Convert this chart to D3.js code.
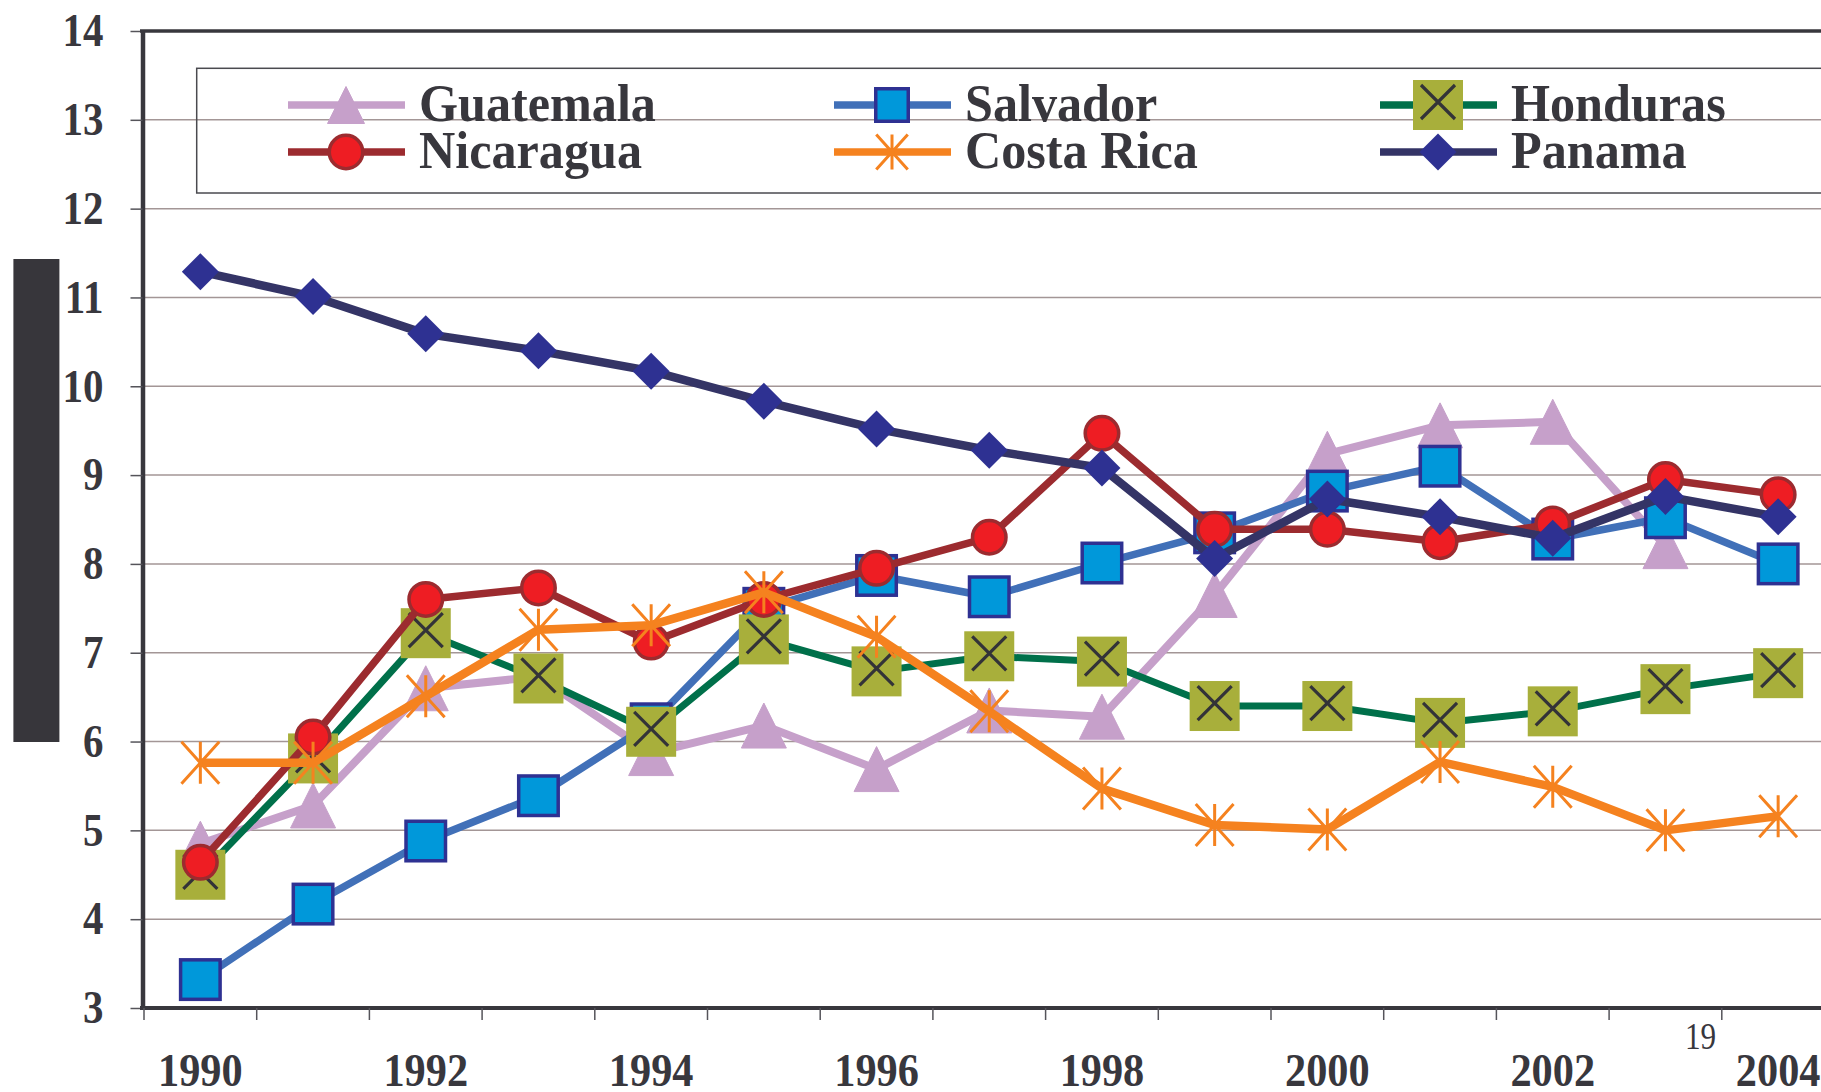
<!DOCTYPE html>
<html>
<head>
<meta charset="utf-8">
<script src="https://cdn.jsdelivr.net/npm/d3@7"></script>
<style>
body { margin: 0; background: #fff; }
svg { display: block; }
text { font-family: "Liberation Serif", "Times New Roman", serif; fill: #38373d; }
</style>
</head>
<body>
<svg id="chart" width="1821" height="1092"></svg>
<script>
var years = [1990, 1991, 1992, 1993, 1994, 1995, 1996, 1997, 1998, 1999, 2000, 2001, 2002, 2003, 2004];
var guatemala = [4.85, 5.28, 6.6, 6.73, 5.87, 6.18, 5.69, 6.35, 6.28, 7.65, 9.24, 9.56, 9.6, 8.2, null];
var salvador = [3.32, 4.17, 4.88, 5.39, 6.2, 7.5, 7.87, 7.63, 8.01, 8.35, 8.82, 9.1, 8.28, 8.52, 8.0];
var honduras = [4.5, 5.81, 7.22, 6.71, 6.11, 7.15, 6.79, 6.96, 6.9, 6.4, 6.4, 6.21, 6.34, 6.59, 6.77];
var nicaragua = [4.64, 6.05, 7.6, 7.73, 7.12, 7.6, 7.95, 8.3, 9.47, 8.39, 8.39, 8.25, 8.45, 8.95, 8.78];
var costaRica = [5.76, 5.76, 6.51, 7.26, 7.31, 7.68, 7.18, 6.34, 5.47, 5.06, 5.01, 5.77, 5.49, 5.0, 5.16];
var panama = [11.29, 11.01, 10.59, 10.4, 10.17, 9.83, 9.52, 9.28, 9.08, 8.06, 8.73, 8.53, 8.29, 8.76, 8.53];
var yTicks = [3, 4, 5, 6, 7, 8, 9, 10, 11, 12, 13, 14];
var yearLabels = [1990, 1992, 1994, 1996, 1998, 2000, 2002, 2004];

// legend order = drawing order
var series = [
  {name: "Guatemala", values: guatemala, color: "#c6a0ca", width: 8, mark: "triangle", size: 45, lsize: 37},
  {name: "Salvador", values: salvador, color: "#4170b8", width: 7.5, mark: "square", size: 43, lsize: 36},
  {name: "Honduras", values: honduras, color: "#00704a", width: 7, mark: "xbox", size: 50, lsize: 50},
  {name: "Nicaragua", values: nicaragua, color: "#9c2b2f", width: 7.5, mark: "circle", size: 37, lsize: 37},
  {name: "Costa Rica", values: costaRica, color: "#f5821f", width: 8.5, mark: "star", size: 42, lsize: 35},
  {name: "Panama", values: panama, color: "#343466", width: 8.5, mark: "diamond", size: 37, lsize: 37}
];

var svg = d3.select("#chart");
var x = d3.scaleBand().domain(years).range([144, 144 + 15 * 112.7]);
var y = d3.scaleLinear().domain([3, 14]).range([1008, 31]);
function cx(yr) { return x(yr) + x.bandwidth() / 2; }

function squeeze(sel, k) {
  sel.each(function () {
    var w = this.getComputedTextLength();
    d3.select(this).attr("textLength", w * k).attr("lengthAdjust", "spacingAndGlyphs");
  });
}

function addMarker(g, type, s) {
  var h = s / 2;
  if (type == "triangle") {
    g.append("path").attr("d", "M0," + (-h) + "L" + h + "," + h + "L" + (-h) + "," + h + "Z")
      .attr("fill", "#c6a0ca").attr("stroke", "#c6a0ca").attr("stroke-width", 1).attr("stroke-linejoin", "round");
  } else if (type == "square") {
    g.append("rect").attr("x", -h + 1.75).attr("y", -h + 1.75).attr("width", s - 3.5).attr("height", s - 3.5)
      .attr("fill", "#0098da").attr("stroke", "#2e3192").attr("stroke-width", 3.5);
  } else if (type == "xbox") {
    g.append("rect").attr("x", -h).attr("y", -h).attr("width", s).attr("height", s).attr("fill", "#a8af3b");
    g.append("path").attr("d", "M-17,-20L17,14M17,-20L-17,14")
      .attr("stroke", "#333338").attr("stroke-width", 3.2).attr("fill", "none");
  } else if (type == "circle") {
    g.append("circle").attr("r", h - 1.75).attr("fill", "#ee1d23").attr("stroke", "#9c2b2f").attr("stroke-width", 3.5);
  } else if (type == "star") {
    g.append("path").attr("d", "M0," + (-h) + "V" + h + "M" + (-h * 0.9) + "," + (-h) + "L" + (h * 0.9) + "," + h +
        "M" + (h * 0.9) + "," + (-h) + "L" + (-h * 0.9) + "," + h)
      .attr("stroke", "#f5821f").attr("stroke-width", 3).attr("fill", "none");
  } else if (type == "diamond") {
    g.append("path").attr("d", "M0," + (-h) + "L" + h + ",0L0," + h + "L" + (-h) + ",0Z").attr("fill", "#2e3192");
  }
}

svg.append("rect").attr("width", 1821).attr("height", 1092).attr("fill", "#fff");

// dark block on the left
svg.append("rect").attr("x", 13.4).attr("y", 259).attr("width", 46).attr("height", 483).attr("fill", "#37363b");

// gridlines
svg.append("g").selectAll("line")
  .data(yTicks.filter(function (t) { return t > 3 && t < 14; }))
  .join("line")
  .attr("x1", 142).attr("x2", 1821)
  .attr("y1", function (d) { return y(d); }).attr("y2", function (d) { return y(d); })
  .attr("stroke", "#a39696").attr("stroke-width", 1.5);

// legend
var legend = svg.append("g");
legend.append("rect").attr("x", 196.7).attr("y", 68.3).attr("width", 1700).attr("height", 124.7)
  .attr("fill", "none").attr("stroke", "#4a4a4f").attr("stroke-width", 1.5);
var legCols = [288, 834, 1380];
var legRows = [105, 152];
series.forEach(function (s, i) {
  var lx = legCols[i % 3], ly = legRows[Math.floor(i / 3)];
  var lg = legend.append("g");
  lg.append("line").attr("x1", lx).attr("x2", lx + 117).attr("y1", ly).attr("y2", ly)
    .attr("stroke", s.color).attr("stroke-width", 7.7);
  addMarker(lg.append("g").attr("transform", "translate(" + (lx + 58) + "," + ly + ")"), s.mark, s.lsize);
  lg.append("text").attr("x", lx + 131).attr("y", ly + 16)
    .attr("font-size", 52).attr("font-weight", "bold").text(s.name)
    .call(squeeze, 0.965);
});

// series
var line = d3.line()
  .defined(function (d) { return d != null; })
  .x(function (d, i) { return cx(years[i]); })
  .y(function (d) { return y(d); });

series.forEach(function (s) {
  var g = svg.append("g");
  g.append("path").datum(s.values).attr("d", line)
    .attr("fill", "none").attr("stroke", s.color).attr("stroke-width", s.width).attr("stroke-linejoin", "round");
  years.forEach(function (yr, i) {
    if (s.values[i] == null) return;
    addMarker(g.append("g").attr("transform", "translate(" + cx(yr) + "," + y(s.values[i]) + ")"), s.mark, s.size);
  });
});

// y axis
var yAxis = svg.append("g").attr("transform", "translate(142.5,0)")
  .call(d3.axisLeft(y).tickValues(yTicks).tickSize(12).tickSizeOuter(0).tickPadding(27));
yAxis.select(".domain").attr("stroke", "#38373d").attr("stroke-width", 4.5);
yAxis.selectAll(".tick line").attr("stroke", "#55545a").attr("stroke-width", 1.5);
yAxis.selectAll(".tick text").attr("font-size", 46).attr("font-weight", "bold").attr("fill", "#38373d")
  .attr("font-family", null).call(squeeze, 0.89);

// top and bottom frame
svg.append("line").attr("x1", 140).attr("x2", 1821).attr("y1", y(14)).attr("y2", y(14))
  .attr("stroke", "#38373d").attr("stroke-width", 3.5);
svg.append("line").attr("x1", 140).attr("x2", 1821).attr("y1", y(3)).attr("y2", y(3))
  .attr("stroke", "#38373d").attr("stroke-width", 4);

// x ticks at band edges
svg.append("g").selectAll("line")
  .data(years.map(function (yr) { return x(yr); }).concat([x(2004) + x.bandwidth()]))
  .join("line")
  .attr("x1", function (d) { return d; }).attr("x2", function (d) { return d; })
  .attr("y1", 1008).attr("y2", 1020)
  .attr("stroke", "#55545a").attr("stroke-width", 1.5);

// x labels
var xAxis = svg.append("g").attr("transform", "translate(0,1008)")
  .call(d3.axisBottom(x).tickValues(yearLabels).tickSize(0).tickPadding(44.6));
xAxis.select(".domain").remove();
xAxis.selectAll(".tick text").attr("font-size", 47).attr("font-weight", "bold").attr("fill", "#38373d")
  .attr("font-family", null).call(squeeze, 0.9);

// stray label
svg.append("text").attr("x", 1700.5).attr("y", 1049).attr("text-anchor", "middle")
  .attr("font-size", 38).text("19").call(squeeze, 0.82);
</script>
</body>
</html>
